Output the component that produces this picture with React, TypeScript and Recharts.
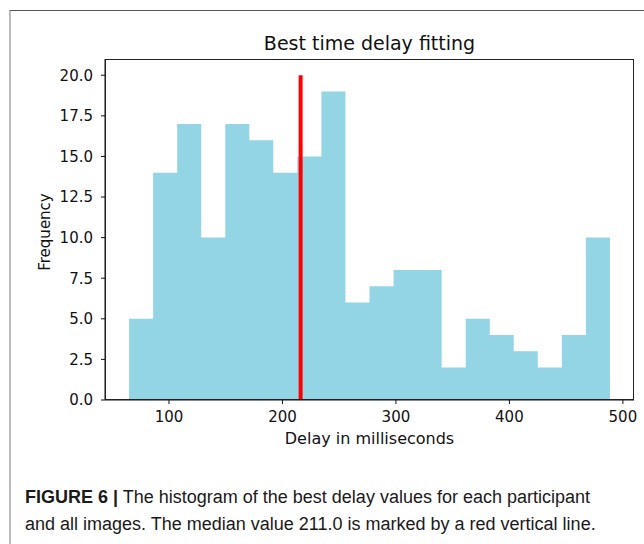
import React from "react";
import {
  Area,
  ComposedChart,
  ReferenceLine,
  XAxis,
  YAxis,
} from "recharts";

// histogram bin edges (ms)
const binEdges = [
  64.8, 86.0, 107.2, 128.4, 149.6, 170.8, 191.9, 213.1, 234.3, 255.5, 276.7,
  297.9, 319.1, 340.3, 361.5, 382.7, 403.8, 425.0, 446.2, 467.4, 488.6,
];
const binCounts = [5, 14, 17, 10, 17, 16, 14, 15, 19, 6, 7, 8, 8, 2, 5, 4, 3, 2, 4, 10];
const xTicks = [100, 200, 300, 400, 500];
const yTicks = [0, 2.5, 5, 7.5, 10, 12.5, 15, 17.5, 20];
const medianLineX = 216;
const medianLineTop = 20;

const data = binEdges.map((edge, i) => ({
  delay: edge,
  count: i < binCounts.length ? binCounts[i] : binCounts[binCounts.length - 1],
}));

const mpl = "'DejaVu Sans', sans-serif";

function App() {
  return (
    <div style={{ position: "absolute", left: 0, top: 0, width: 644, height: 544, background: "#fff" }}>
      <div
        style={{
          position: "absolute",
          left: 9,
          top: 10,
          right: 0,
          bottom: 0,
          borderTop: "1.5px solid #555",
          borderLeft: "2px solid #bbb",
        }}
      />
      <div
        style={{
          position: "absolute",
          left: 105,
          width: 529,
          top: 31,
          textAlign: "center",
          fontFamily: mpl,
          fontSize: 19,
          lineHeight: "24px",
          color: "#111",
        }}
      >
        Best time delay fitting
      </div>
      <div
        style={{
          position: "absolute",
          left: 45,
          top: 232,
          transform: "translate(-50%, -50%) rotate(-90deg)",
          fontFamily: mpl,
          fontSize: 15,
          color: "#111",
          whiteSpace: "nowrap",
        }}
      >
        Frequency
      </div>
      <div
        style={{
          position: "absolute",
          left: 105,
          width: 529,
          top: 429,
          textAlign: "center",
          fontFamily: mpl,
          fontSize: 16,
          lineHeight: "20px",
          color: "#111",
        }}
      >
        Delay in milliseconds
      </div>
      <div style={{ position: "absolute", left: 0, top: 0 }}>
        <ComposedChart
          width={644}
          height={460}
          data={data}
          margin={{ top: 59, right: 10, left: 45, bottom: 10 }}
        >
          <XAxis
            dataKey="delay"
            type="number"
            domain={[43.6, 509.8]}
            ticks={xTicks}
            allowDataOverflow
            height={50}
            tickSize={4}
            tickMargin={7}
            stroke="#111"
            tick={{ fill: "#111", fontFamily: mpl, fontSize: 15 }}
          />
          <YAxis
            type="number"
            domain={[0, 21]}
            ticks={yTicks}
            allowDataOverflow
            width={60}
            tickSize={4}
            tickMargin={8}
            stroke="#111"
            tickFormatter={(v: number) => v.toFixed(1)}
            tick={{ fill: "#111", fontFamily: mpl, fontSize: 15 }}
          />
          <Area
            dataKey="count"
            type="stepAfter"
            fill="#93d5e5"
            fillOpacity={1}
            stroke="none"
            baseValue={0}
            isAnimationActive={false}
            dot={false}
            activeDot={false}
          />
          <ReferenceLine
            segment={[
              { x: medianLineX, y: 0 },
              { x: medianLineX, y: medianLineTop },
            ]}
            stroke="#ff0000"
            strokeWidth={4}
          />
        </ComposedChart>
      </div>
      <div
        style={{
          position: "absolute",
          left: 105,
          top: 59,
          width: 529,
          height: 341,
          boxSizing: "border-box",
          border: "1.3px solid #222",
          pointerEvents: "none",
        }}
      />
      <div
        style={{
          position: "absolute",
          left: 25,
          top: 484,
          width: 610,
          fontFamily: "'Liberation Sans Narrow', 'Liberation Sans', sans-serif",
          fontSize: 18,
          lineHeight: "27px",
          color: "#1a1a1a",
        }}
      >
        <b>FIGURE 6 |</b> The histogram of the best delay values for each participant
        <br />
        and all images. The median value 211.0 is marked by a red vertical line.
      </div>
    </div>
  );
}

export default App;
